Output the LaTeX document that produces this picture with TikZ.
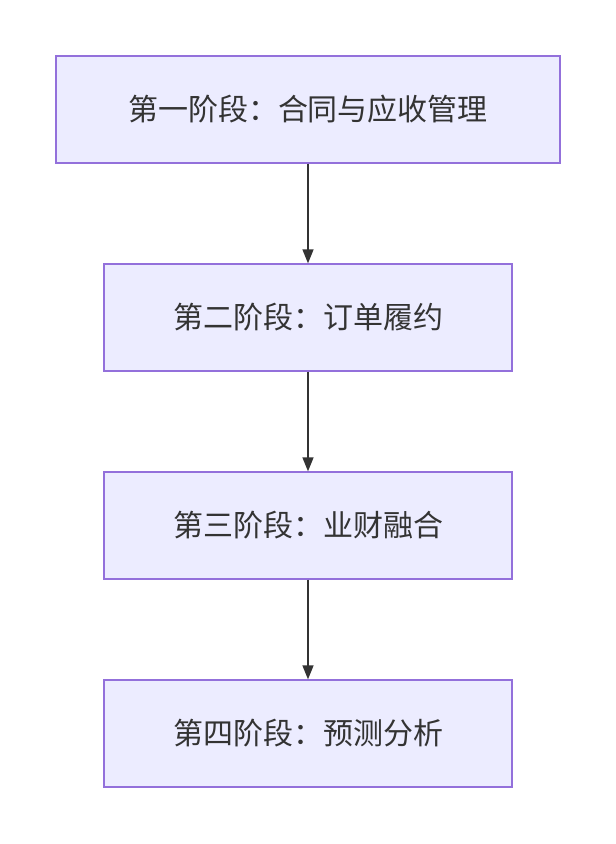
\documentclass[tikz,border=0pt]{standalone}
\usepackage{fontspec}
\setmainfont{Noto Sans CJK SC}
\usetikzlibrary{arrows.meta}
\definecolor{boxfill}{HTML}{ECECFF}
\definecolor{boxline}{HTML}{9370DB}
\definecolor{txt}{HTML}{333333}
\begin{document}
\begin{tikzpicture}[x=1pt,y=-1pt,
  box/.style={draw=boxline,fill=boxfill,line width=1.3pt,minimum height=107pt,text=txt,font=\fontsize{30}{36}\selectfont},
  arr/.style={draw=txt,line width=1.5pt,-{Triangle[length=14pt,width=11pt]}}]
\useasboundingbox (0,0) rectangle (616,844);
\node[box,minimum width=504pt] (a) at (308,109.5) {第一阶段：合同与应收管理};
\node[box,minimum width=408pt] (b) at (308,317.5) {第二阶段：订单履约};
\node[box,minimum width=408pt] (c) at (308,525.5) {第三阶段：业财融合};
\node[box,minimum width=408pt] (d) at (308,733.5) {第四阶段：预测分析};
\draw[arr] (a) -- (b);
\draw[arr] (b) -- (c);
\draw[arr] (c) -- (d);
\end{tikzpicture}
\end{document}
